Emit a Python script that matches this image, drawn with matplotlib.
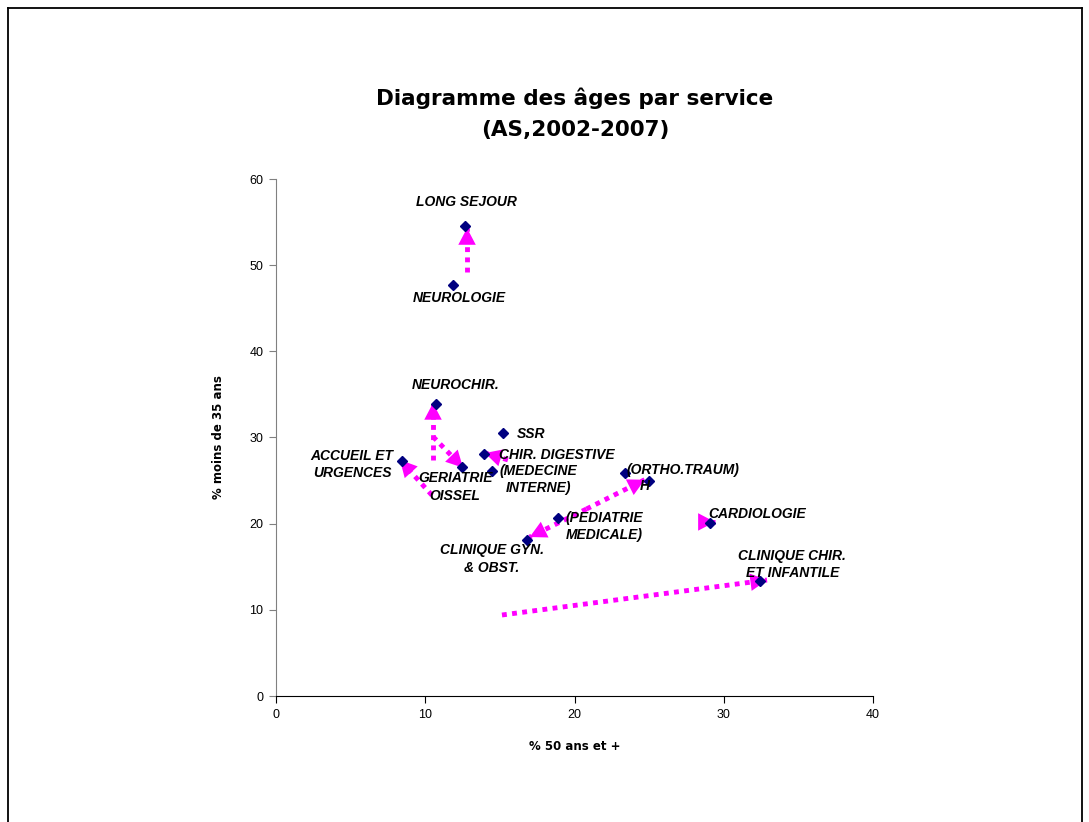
import matplotlib
matplotlib.use("Agg")
import matplotlib.pyplot as plt
from matplotlib.lines import Line2D

# ---- data ----
services = ["LONG SEJOUR", "NEUROLOGIE", "NEUROCHIR.", "SSR", "CHIR. DIGESTIVE",
            "MEDECINE INTERNE", "GERIATRIE OISSEL", "ACCUEIL ET URGENCES",
            "ORTHO.TRAUM", "H", "PEDIATRIE MEDICALE", "CLINIQUE GYN. & OBST.",
            "CARDIOLOGIE", "CLINIQUE CHIR. ET INFANTILE"]
pct_50_plus = [12.66, 11.86, 10.72, 15.2, 13.94, 14.47, 12.46, 8.44,
               23.4, 24.99, 18.9, 16.8, 29.08, 32.4]
pct_moins_35 = [54.5, 47.7, 33.9, 30.5, 28.1, 26.1, 26.6, 27.3,
                25.9, 24.95, 20.7, 18.1, 20.1, 13.3]

# point labels (text, x, y, ha)
label_texts = ["LONG SEJOUR", "NEUROLOGIE", "NEUROCHIR.", "SSR", "CHIR. DIGESTIVE",
               "(MEDECINE\nINTERNE)", "GERIATRIE\nOISSEL", "ACCUEIL ET\nURGENCES",
               "(ORTHO.TRAUM)", "H", "(PEDIATRIE\nMEDICALE)", "CLINIQUE GYN.\n& OBST.",
               "CARDIOLOGIE", "CLINIQUE CHIR.\nET INFANTILE"]
label_x = [12.73, 12.26, 12.06, 16.15, 14.94, 17.6, 12.0, 5.09,
           23.5, 24.4, 22.0, 14.47, 28.95, 34.6]
label_y = [57.3, 46.2, 36.1, 30.4, 28.0, 25.1, 24.25, 26.9,
           26.2, 24.4, 19.7, 15.9, 21.1, 15.3]
label_ha = ["center", "center", "center", "left", "left", "center", "center", "center",
            "left", "left", "center", "center", "left", "center"]

# evolution arrows (start -> end)
arrow_x0 = [12.8, 10.52, 10.52, 10.45, 15.54, 20.8, 20.8, 28.4, 15.14]
arrow_y0 = [49.2, 27.4, 30.1, 23.3, 27.4, 21.7, 21.7, 20.2, 9.4]
arrow_x1 = [12.8, 10.52, 12.53, 8.31, 14.0, 17.0, 24.7, 29.4, 32.9]
arrow_y1 = [54.3, 34.0, 26.5, 27.4, 28.2, 18.45, 25.1, 20.2, 13.46]

x_ticks = [0, 10, 20, 30, 40]
y_ticks = [0, 10, 20, 30, 40, 50, 60]

MAGENTA = "#FF00FF"

fig = plt.figure(figsize=(10.89, 8.22), dpi=100)
ax = fig.add_axes([276/1089, 1-696/822, (873-276)/1089, (696-179)/822])

# arrows
for x0, y0, x1, y1 in zip(arrow_x0, arrow_y0, arrow_x1, arrow_y1):
    ax.plot([x0, x1], [y0, y1], color=MAGENTA, lw=3.5, ls=(0, (1, 1.1)),
            solid_capstyle="butt", zorder=2)
    ax.annotate("", xy=(x1, y1),
                xytext=(x1 - 0.02*(x1-x0), y1 - 0.02*(y1-y0)),
                arrowprops=dict(arrowstyle="-|>,head_length=0.8,head_width=0.42",
                                color=MAGENTA, lw=0, mutation_scale=15,
                                shrinkA=0, shrinkB=0), zorder=3)

ax.plot(pct_50_plus, pct_moins_35, ls="none", marker="D", ms=5.5,
        color="#000080", zorder=4)

for t, x, y, ha in zip(label_texts, label_x, label_y, label_ha):
    ax.text(x, y, t, ha=ha, va="center", multialignment="center",
            fontsize=10, fontweight="bold", fontstyle="italic",
            family="Liberation Sans", zorder=5, linespacing=1.3)

ax.set_xlim(0, 40)
ax.set_ylim(0, 60)
ax.set_xticks(x_ticks)
ax.set_yticks(y_ticks)
ax.spines["top"].set_visible(False)
ax.spines["right"].set_visible(False)
ax.spines["left"].set_color("#808080")
ax.spines["bottom"].set_color("black")
ax.tick_params(axis="both", direction="out", length=5, width=0.8,
               labelsize=9, pad=4)
ax.tick_params(axis="y", color="#808080")
for lbl in ax.get_xticklabels() + ax.get_yticklabels():
    lbl.set_family("Liberation Sans")

ax.set_xlabel("% 50 ans et +", fontsize=8.5, fontweight="bold", labelpad=14)
ax.set_ylabel("% moins de 35 ans", fontsize=8.5, fontweight="bold", labelpad=18)

fig.text(575/1089, 1-98/822, "Diagramme des âges par service", ha="center",
         va="center", fontsize=15.5, fontweight="bold")
fig.text(575/1089, 1-130/822, "(AS,2002-2007)", ha="center",
         va="center", fontsize=15.5, fontweight="bold")

# outer border (top, left, right)
fig.add_artist(Line2D([8/1089, 8/1089], [0, 1-8/822], transform=fig.transFigure,
                      color="black", lw=1.3))
fig.add_artist(Line2D([8/1089, 1082/1089], [1-8/822, 1-8/822], transform=fig.transFigure,
                      color="black", lw=1.3))
fig.add_artist(Line2D([1082/1089, 1082/1089], [0, 1-8/822], transform=fig.transFigure,
                      color="black", lw=1.3))

fig.savefig("out.png", dpi=100)
